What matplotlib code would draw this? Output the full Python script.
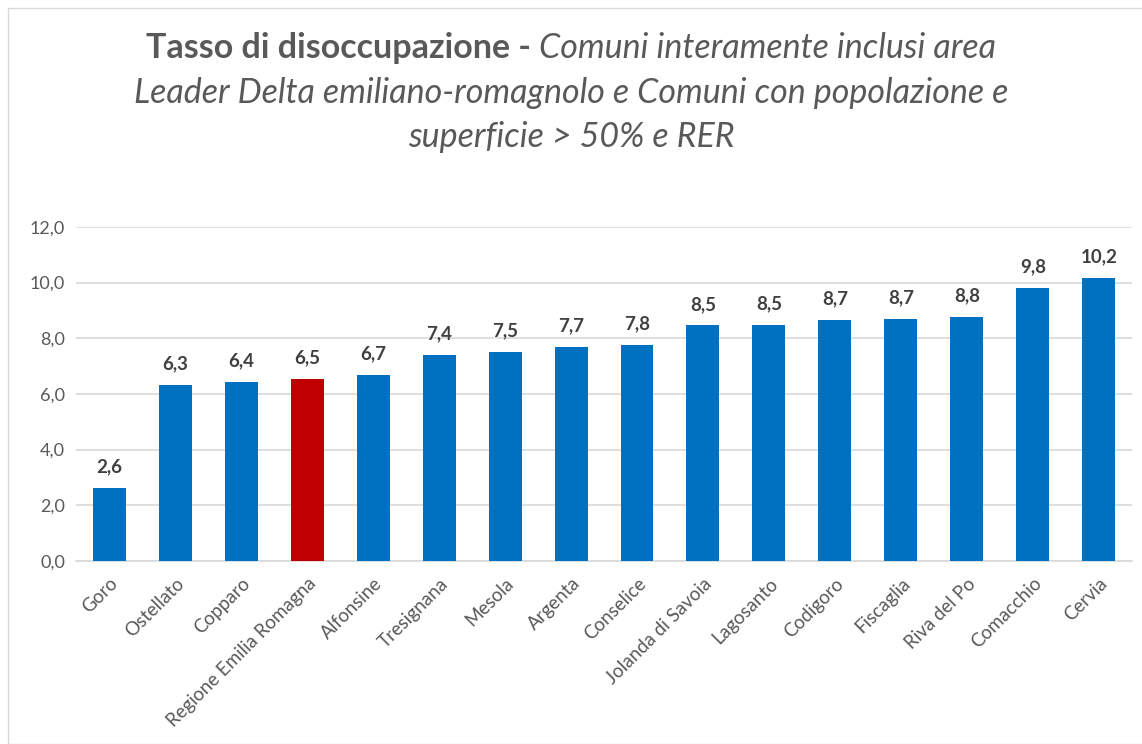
import matplotlib
matplotlib.use("Agg")
import matplotlib.pyplot as plt
import numpy as np
from matplotlib.patches import Rectangle

COMUNI = ["Goro", "Ostellato", "Copparo", "Regione Emilia Romagna", "Alfonsine",
          "Tresignana", "Mesola", "Argenta", "Conselice", "Jolanda di Savoia",
          "Lagosanto", "Codigoro", "Fiscaglia", "Riva del Po", "Comacchio", "Cervia"]
TASSO = [2.62, 6.32, 6.43, 6.54, 6.68, 7.40, 7.51, 7.69, 7.76, 8.46,
         8.48, 8.66, 8.70, 8.77, 9.81, 10.17]
HIGHLIGHT = "Regione Emilia Romagna"
YTICKS = [0, 2, 4, 6, 8, 10, 12]

BLUE = "#0070c0"
RED = "#c00000"
GREY = "#595959"

plt.rcParams.update({"font.family": ["Lato", "DejaVu Sans"]})
fig = plt.figure(figsize=(11.42, 7.44), dpi=100)
ax = fig.add_axes([0.0666, 0.246, 0.9246, 0.449])

x = np.arange(len(COMUNI))
colors = [RED if c == HIGHLIGHT else BLUE for c in COMUNI]
bars = ax.bar(x, TASSO, width=0.5, color=colors, zorder=3)
for b, v in zip(bars, TASSO):
    ax.text(b.get_x() + b.get_width() / 2, v + 0.45, f"{v:.1f}".replace(".", ","),
            ha="center", va="bottom", fontsize=13.5, fontweight="bold", color="#404040")

ax.set_xlim(-0.5, len(COMUNI) - 0.5)
ax.set_ylim(0, 12)
ax.set_yticks(YTICKS)
ax.set_yticklabels([f"{t:.1f}".replace(".", ",") for t in YTICKS], fontsize=13, color=GREY)
ax.set_xticks(x)
ax.set_xticklabels(COMUNI, rotation=45, ha="right", rotation_mode="anchor",
                   fontsize=13.5, color=GREY)
ax.tick_params(axis="both", length=0, pad=8)
ax.tick_params(axis="x", pad=10)
ax.grid(axis="y", color="#d9d9d9", linewidth=1.2, zorder=0)
for s in ["top", "right", "left"]:
    ax.spines[s].set_visible(False)
ax.spines["bottom"].set_color("#d9d9d9")
ax.spines["bottom"].set_linewidth(1.2)

# title with mixed bold / italic parts
fig.canvas.draw()
r = fig.canvas.get_renderer()
tsize = 24.5
t1 = fig.text(0, 0, "Tasso di disoccupazione - ", fontsize=tsize, fontweight="bold", color=GREY)
t2 = fig.text(0, 0, "Comuni interamente inclusi area", fontsize=tsize, style="italic", color=GREY)
w1 = t1.get_window_extent(r).width / fig.bbox.width
w2 = t2.get_window_extent(r).width / fig.bbox.width
start = 0.5 - (w1 + w2) / 2
y1 = 1 - 48 / 744
t1.set_position((start, y1))
t1.set_va("center")
t2.set_position((start + w1, y1))
t2.set_va("center")
fig.text(0.5, 1 - 93 / 744, "Leader Delta emiliano-romagnolo e Comuni con popolazione e",
         fontsize=tsize, style="italic", color=GREY, ha="center", va="center")
fig.text(0.5, 1 - 137 / 744, "superficie > 50% e RER",
         fontsize=tsize, style="italic", color=GREY, ha="center", va="center")

fig.patches.append(Rectangle((8 / 1142, 0), 1.1, 1 - 8 / 744, transform=fig.transFigure,
                             fill=False, edgecolor="#d9d9d9", linewidth=1))

fig.savefig("out.png", dpi=100)
